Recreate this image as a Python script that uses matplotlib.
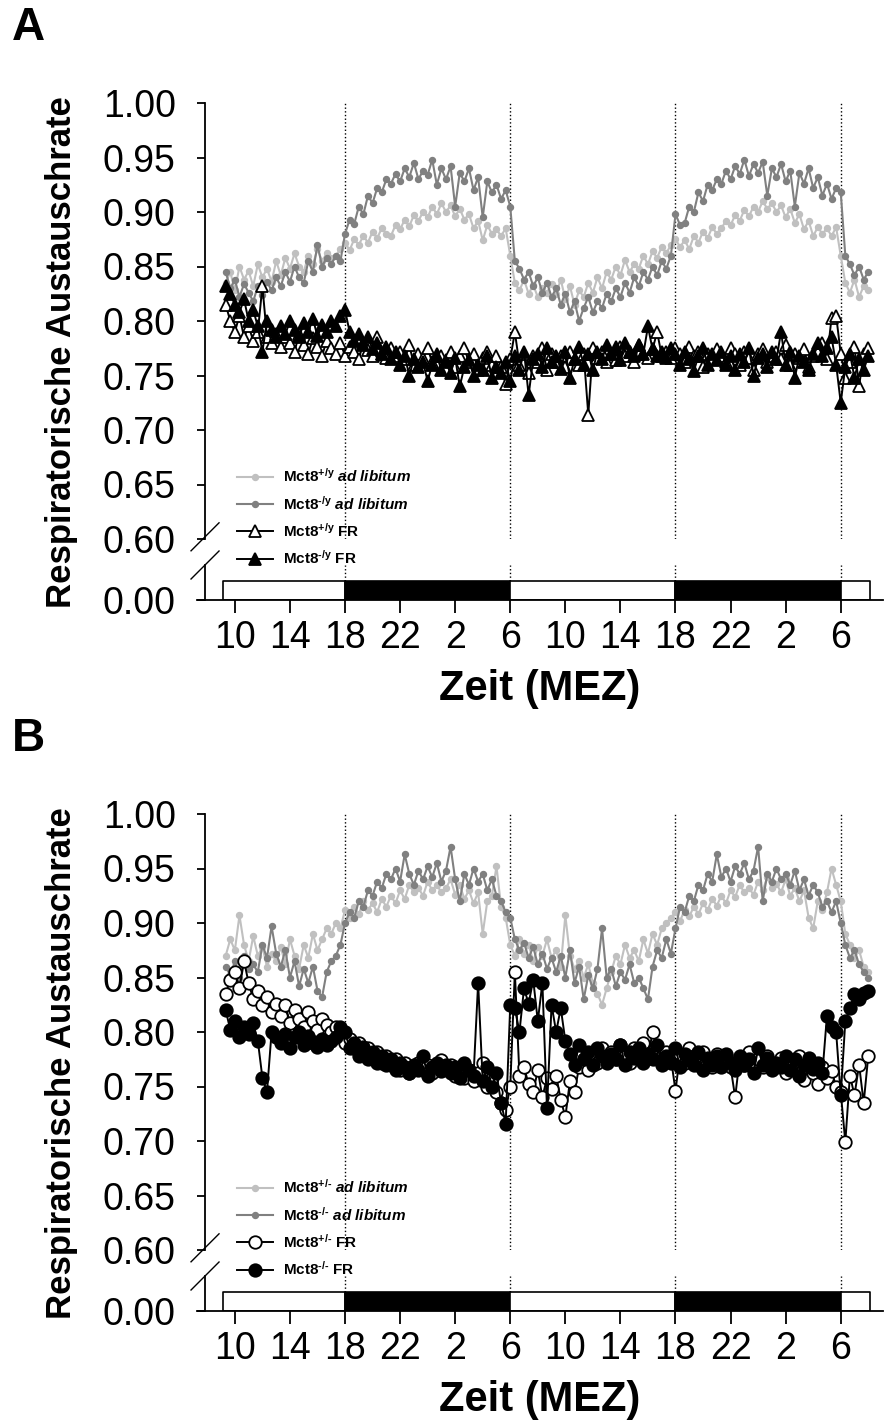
import numpy as np
import matplotlib
matplotlib.use("Agg")
import matplotlib.pyplot as plt
from matplotlib.lines import Line2D

plt.rcParams['font.family'] = ['Liberation Sans', 'DejaVu Sans']
plt.rcParams['mathtext.fontset'] = 'custom'
plt.rcParams['mathtext.rm'] = 'Liberation Sans'
plt.rcParams['mathtext.bf'] = 'Liberation Sans:bold'
plt.rcParams['mathtext.it'] = 'Liberation Sans:italic'
plt.rcParams['mathtext.bfit'] = 'Liberation Sans:italic:bold'

# time axis: hours from midnight of day 1, one sample every 20 min (9:20 .. 8:00 day 3)
hours = 9 + 1 / 3 + np.arange(141) / 3

tick_hours = [10, 14, 18, 22, 26, 30, 34, 38, 42, 46, 50, 54]
tick_labels = ['10', '14', '18', '22', '2', '6', '10', '14', '18', '22', '2', '6']
lights_off = [18, 42]       # dark phase starts
lights_on = [30, 54]        # dark phase ends
bar_edges = [9.14, 18, 30, 42, 54, 56.13]
bar_colors = ['white', 'black', 'white', 'black', 'white']

# ---- panel A (males) ----
a_wt_adlib = [
    0.835, 0.845, 0.828, 0.850, 0.838, 0.846, 0.832, 0.852, 0.840, 0.848, 0.836, 0.855,
    0.842, 0.858, 0.848, 0.862, 0.850, 0.845, 0.860, 0.852, 0.866, 0.855, 0.862, 0.858,
    0.860, 0.866, 0.872, 0.865, 0.875, 0.870, 0.878, 0.872, 0.882, 0.876, 0.885, 0.880,
    0.878, 0.888, 0.884, 0.893, 0.887, 0.897, 0.892, 0.900, 0.895, 0.905, 0.898, 0.908,
    0.900, 0.906, 0.896, 0.903, 0.893, 0.898, 0.885, 0.892, 0.874, 0.888, 0.880, 0.884,
    0.878, 0.885, 0.860, 0.835, 0.828, 0.838, 0.825, 0.833, 0.822, 0.830, 0.826, 0.834,
    0.825, 0.838, 0.820, 0.832, 0.815, 0.828, 0.822, 0.835, 0.826, 0.840, 0.830, 0.845,
    0.838, 0.850, 0.842, 0.856, 0.845, 0.852, 0.848, 0.860, 0.852, 0.864, 0.858, 0.868,
    0.862, 0.870, 0.875, 0.868, 0.874, 0.866, 0.878, 0.872, 0.882, 0.876, 0.886, 0.880,
    0.885, 0.892, 0.888, 0.897, 0.892, 0.902, 0.896, 0.905, 0.900, 0.910, 0.903, 0.908,
    0.900, 0.906, 0.895, 0.903, 0.890, 0.898, 0.884, 0.892, 0.878, 0.886, 0.880, 0.885,
    0.878, 0.886, 0.860, 0.835, 0.826, 0.838, 0.822, 0.832, 0.828]
a_ko_adlib = [
    0.845, 0.830, 0.838, 0.822, 0.834, 0.826, 0.818, 0.832, 0.824, 0.836, 0.828, 0.840,
    0.832, 0.845, 0.836, 0.850, 0.840, 0.835, 0.855, 0.845, 0.870, 0.850, 0.858, 0.852,
    0.860, 0.855, 0.880, 0.893, 0.889, 0.905, 0.898, 0.915, 0.908, 0.922, 0.918, 0.930,
    0.926, 0.935, 0.928, 0.940, 0.932, 0.945, 0.930, 0.938, 0.934, 0.948, 0.925, 0.940,
    0.930, 0.942, 0.905, 0.936, 0.928, 0.940, 0.920, 0.932, 0.895, 0.928, 0.918, 0.925,
    0.912, 0.920, 0.905, 0.855, 0.848, 0.838, 0.845, 0.832, 0.840, 0.826, 0.835, 0.822,
    0.830, 0.815, 0.825, 0.808, 0.818, 0.800, 0.812, 0.822, 0.808, 0.818, 0.812, 0.825,
    0.818, 0.830, 0.822, 0.835, 0.826, 0.840, 0.832, 0.845, 0.838, 0.850, 0.842, 0.855,
    0.848, 0.860, 0.898, 0.888, 0.890, 0.905, 0.900, 0.918, 0.910, 0.925, 0.920, 0.930,
    0.926, 0.938, 0.930, 0.942, 0.935, 0.948, 0.933, 0.944, 0.936, 0.946, 0.915, 0.940,
    0.932, 0.944, 0.928, 0.938, 0.905, 0.936, 0.926, 0.940, 0.922, 0.932, 0.915, 0.926,
    0.912, 0.922, 0.918, 0.860, 0.852, 0.842, 0.850, 0.838, 0.845]
a_wt_fr = [
    0.815, 0.800, 0.790, 0.805, 0.785, 0.795, 0.782, 0.790, 0.832, 0.785, 0.780, 0.788,
    0.776, 0.785, 0.780, 0.772, 0.788, 0.778, 0.770, 0.784, 0.776, 0.768, 0.782, 0.775,
    0.770, 0.780, 0.768, 0.776, 0.772, 0.765, 0.780, 0.773, 0.768, 0.785, 0.770, 0.766,
    0.775, 0.768, 0.772, 0.765, 0.778, 0.760, 0.770, 0.766, 0.775, 0.762, 0.770, 0.768,
    0.764, 0.772, 0.758, 0.768, 0.775, 0.762, 0.770, 0.755, 0.766, 0.772, 0.760, 0.768,
    0.758, 0.742, 0.765, 0.790, 0.760, 0.770, 0.752, 0.768, 0.762, 0.775, 0.755, 0.770,
    0.762, 0.768, 0.758, 0.772, 0.765, 0.760, 0.770, 0.714, 0.775, 0.766, 0.772, 0.762,
    0.770, 0.764, 0.776, 0.768, 0.772, 0.762, 0.778, 0.770, 0.766, 0.774, 0.790, 0.768,
    0.772, 0.766, 0.775, 0.770, 0.762, 0.776, 0.768, 0.772, 0.758, 0.770, 0.765, 0.774,
    0.768, 0.762, 0.775, 0.770, 0.760, 0.772, 0.766, 0.755, 0.770, 0.774, 0.762, 0.768,
    0.772, 0.765, 0.778, 0.760, 0.770, 0.766, 0.774, 0.758, 0.768, 0.772, 0.780, 0.765,
    0.803, 0.805, 0.770, 0.748, 0.762, 0.776, 0.740, 0.770, 0.775]
a_ko_fr = [
    0.832, 0.825, 0.815, 0.808, 0.820, 0.800, 0.810, 0.795, 0.772, 0.800, 0.792, 0.785,
    0.795, 0.788, 0.800, 0.792, 0.785, 0.798, 0.790, 0.802, 0.786, 0.796, 0.790, 0.800,
    0.795, 0.805, 0.810, 0.790, 0.782, 0.788, 0.778, 0.785, 0.774, 0.780, 0.770, 0.776,
    0.765, 0.772, 0.760, 0.768, 0.750, 0.765, 0.758, 0.762, 0.745, 0.760, 0.768, 0.755,
    0.762, 0.752, 0.766, 0.740, 0.758, 0.764, 0.750, 0.760, 0.755, 0.768, 0.748, 0.758,
    0.752, 0.762, 0.745, 0.768, 0.755, 0.772, 0.732, 0.765, 0.770, 0.758, 0.775, 0.762,
    0.768, 0.756, 0.772, 0.748, 0.765, 0.776, 0.760, 0.770, 0.755, 0.772, 0.765, 0.778,
    0.770, 0.776, 0.764, 0.780, 0.772, 0.768, 0.778, 0.770, 0.795, 0.774, 0.768, 0.772,
    0.766, 0.775, 0.770, 0.760, 0.772, 0.765, 0.754, 0.768, 0.775, 0.760, 0.770, 0.764,
    0.772, 0.760, 0.768, 0.755, 0.770, 0.762, 0.775, 0.750, 0.766, 0.770, 0.758, 0.772,
    0.765, 0.790, 0.760, 0.772, 0.748, 0.768, 0.762, 0.755, 0.770, 0.780, 0.768, 0.775,
    0.785, 0.760, 0.725, 0.758, 0.770, 0.748, 0.765, 0.755, 0.768]

# ---- panel B (females) ----
b_wt_adlib = [
    0.870, 0.885, 0.875, 0.907, 0.880, 0.865, 0.888, 0.870, 0.878, 0.860, 0.872, 0.865,
    0.878, 0.862, 0.885, 0.870, 0.858, 0.880, 0.868, 0.890, 0.875, 0.885, 0.895, 0.890,
    0.900, 0.895, 0.912, 0.905, 0.915, 0.908, 0.920, 0.912, 0.918, 0.910, 0.922, 0.915,
    0.925, 0.918, 0.930, 0.922, 0.935, 0.928, 0.932, 0.925, 0.938, 0.930, 0.935, 0.928,
    0.932, 0.940, 0.926, 0.935, 0.922, 0.930, 0.918, 0.928, 0.890, 0.920, 0.925, 0.952,
    0.915, 0.905, 0.880, 0.870, 0.885, 0.872, 0.880, 0.865, 0.878, 0.870, 0.885, 0.868,
    0.875, 0.860, 0.907, 0.870, 0.858, 0.865, 0.850, 0.862, 0.845, 0.835, 0.825, 0.840,
    0.855, 0.870, 0.862, 0.880, 0.868, 0.875, 0.865, 0.885, 0.872, 0.890, 0.880, 0.895,
    0.900, 0.905, 0.910, 0.902, 0.912, 0.906, 0.915, 0.908, 0.918, 0.912, 0.922, 0.916,
    0.925, 0.918, 0.930, 0.924, 0.935, 0.928, 0.932, 0.926, 0.938, 0.930, 0.942, 0.932,
    0.936, 0.928, 0.940, 0.925, 0.932, 0.920, 0.930, 0.905, 0.895, 0.920, 0.912, 0.928,
    0.950, 0.935, 0.920, 0.890, 0.880, 0.868, 0.875, 0.860, 0.855]
b_ko_adlib = [
    0.860, 0.852, 0.865, 0.850, 0.870, 0.858, 0.862, 0.855, 0.880, 0.868, 0.897, 0.872,
    0.860, 0.875, 0.850, 0.865, 0.842, 0.858, 0.845, 0.860, 0.838, 0.832, 0.855, 0.865,
    0.870, 0.880, 0.900, 0.910, 0.905, 0.920, 0.915, 0.930, 0.925, 0.938, 0.932, 0.945,
    0.940, 0.950, 0.938, 0.963, 0.945, 0.935, 0.948, 0.940, 0.952, 0.942, 0.955, 0.938,
    0.948, 0.970, 0.940, 0.920, 0.945, 0.935, 0.950, 0.938, 0.945, 0.930, 0.940, 0.925,
    0.920, 0.910, 0.905, 0.885, 0.875, 0.882, 0.868, 0.878, 0.862, 0.872, 0.858, 0.868,
    0.855, 0.870, 0.850, 0.875, 0.845, 0.860, 0.830, 0.852, 0.840, 0.858, 0.895, 0.850,
    0.858, 0.842, 0.855, 0.848, 0.862, 0.845, 0.850, 0.840, 0.830, 0.860, 0.875, 0.868,
    0.885, 0.872, 0.895, 0.915, 0.910, 0.925, 0.920, 0.935, 0.930, 0.945, 0.938, 0.963,
    0.942, 0.950, 0.938, 0.952, 0.945, 0.955, 0.940, 0.948, 0.970, 0.920, 0.945, 0.938,
    0.950, 0.940, 0.945, 0.935, 0.948, 0.930, 0.940, 0.925, 0.935, 0.928, 0.915, 0.920,
    0.910, 0.920, 0.900, 0.880, 0.868, 0.875, 0.862, 0.855, 0.850]
b_wt_fr = [
    0.835, 0.848, 0.855, 0.840, 0.865, 0.845, 0.830, 0.838, 0.825, 0.832, 0.818, 0.826,
    0.815, 0.825, 0.808, 0.820, 0.812, 0.805, 0.818, 0.810, 0.802, 0.812, 0.806, 0.800,
    0.805, 0.798, 0.790, 0.794, 0.785, 0.790, 0.780, 0.785, 0.776, 0.782, 0.772, 0.778,
    0.770, 0.775, 0.765, 0.772, 0.762, 0.768, 0.772, 0.765, 0.770, 0.762, 0.768, 0.774,
    0.766, 0.770, 0.760, 0.768, 0.758, 0.765, 0.755, 0.762, 0.772, 0.750, 0.758, 0.745,
    0.735, 0.728, 0.750, 0.855, 0.760, 0.768, 0.752, 0.745, 0.765, 0.740, 0.758, 0.748,
    0.760, 0.738, 0.722, 0.755, 0.745, 0.768, 0.775, 0.765, 0.780, 0.772, 0.785, 0.778,
    0.782, 0.775, 0.788, 0.778, 0.772, 0.785, 0.780, 0.790, 0.776, 0.800, 0.784, 0.778,
    0.782, 0.776, 0.746, 0.780, 0.772, 0.785, 0.778, 0.770, 0.782, 0.775, 0.768, 0.780,
    0.774, 0.778, 0.768, 0.740, 0.776, 0.770, 0.782, 0.765, 0.775, 0.768, 0.778, 0.772,
    0.768, 0.776, 0.762, 0.772, 0.765, 0.778, 0.756, 0.770, 0.762, 0.752, 0.768, 0.758,
    0.764, 0.750, 0.745, 0.699, 0.760, 0.742, 0.770, 0.735, 0.778]
b_ko_fr = [
    0.820, 0.802, 0.810, 0.795, 0.805, 0.798, 0.808, 0.792, 0.758, 0.745, 0.800, 0.795,
    0.790, 0.798, 0.785, 0.795, 0.800, 0.788, 0.796, 0.790, 0.786, 0.794, 0.788, 0.792,
    0.795, 0.805, 0.800, 0.785, 0.790, 0.778, 0.786, 0.775, 0.782, 0.772, 0.778, 0.770,
    0.775, 0.765, 0.772, 0.768, 0.762, 0.770, 0.765, 0.778, 0.760, 0.768, 0.772, 0.764,
    0.770, 0.762, 0.768, 0.758, 0.772, 0.765, 0.760, 0.845, 0.755, 0.768, 0.750, 0.762,
    0.735, 0.716, 0.825, 0.822, 0.800, 0.840, 0.826, 0.848, 0.810, 0.845, 0.730, 0.825,
    0.800, 0.822, 0.792, 0.780, 0.770, 0.788, 0.775, 0.782, 0.770, 0.785, 0.778, 0.772,
    0.780, 0.775, 0.788, 0.770, 0.782, 0.776, 0.785, 0.772, 0.780, 0.775, 0.788, 0.770,
    0.778, 0.772, 0.785, 0.768, 0.780, 0.774, 0.770, 0.782, 0.765, 0.776, 0.770, 0.778,
    0.768, 0.780, 0.772, 0.765, 0.778, 0.770, 0.775, 0.762, 0.785, 0.770, 0.776, 0.765,
    0.772, 0.768, 0.778, 0.765, 0.775, 0.760, 0.770, 0.776, 0.766, 0.772, 0.762, 0.815,
    0.805, 0.800, 0.742, 0.810, 0.822, 0.835, 0.830, 0.836, 0.838]

LIGHT = '#c0c0c0'
DARK = '#808080'
W, H = 885, 1421
X0, X1 = 7.25, 57.07
SPINE_X = 0.0117


def rect(left, top, right, bottom):
    return [left / W, 1 - bottom / H, (right - left) / W, (bottom - top) / H]


def panel(fig, dy, series, marker, geno, letter):
    ax = fig.add_axes(rect(197, 103 + dy, 883, 539 + dy))
    axb = fig.add_axes(rect(197, 565 + dy, 883, 600 + dy))
    axb.set_facecolor('none')
    ax.set_facecolor('none')

    for h in lights_off + lights_on:
        ax.axvline(h, color='k', ls=':', lw=1, zorder=1)
        axb.plot([h, h], [0.54, 1.0], color='k', ls=':', lw=1, zorder=1)

    wt_ad, ko_ad, wt_fr, ko_fr = series
    ax.plot(hours, wt_ad, '-o', color=LIGHT, ms=4.3, lw=1.5, zorder=2)
    ax.plot(hours, ko_ad, '-o', color=DARK, ms=4.3, lw=1.5, zorder=3)
    ax.plot(hours, wt_fr, '-' + marker, color='k', mfc='white', mec='k',
            ms=9, mew=1.3, lw=1.4, zorder=4)
    ax.plot(hours, ko_fr, '-' + marker, color='k', mfc='k', mec='k',
            ms=9, mew=1.3, lw=1.4, zorder=5)

    ax.set_xlim(X0, X1)
    ax.set_ylim(0.60, 1.00)
    ax.set_yticks(np.arange(0.60, 1.001, 0.05))
    ax.set_yticklabels([f'{v:.2f}' for v in np.arange(0.60, 1.001, 0.05)])
    for s in ['top', 'right', 'bottom']:
        ax.spines[s].set_visible(False)
    ax.spines['left'].set_position(('axes', SPINE_X))
    ax.spines['left'].set_linewidth(1.3)
    ax.tick_params(axis='x', bottom=False, labelbottom=False)
    ax.tick_params(axis='y', direction='out', length=6, width=1.3, pad=15, labelsize=27)

    # light/dark bar
    segs = [(a, b - a) for a, b in zip(bar_edges[:-1], bar_edges[1:])]
    axb.broken_barh(segs, (0, 0.543), facecolors=bar_colors, edgecolor='k', lw=1.2, zorder=2)
    axb.set_xlim(X0, X1)
    axb.set_ylim(0, 1)
    axb.set_yticks([0])
    axb.set_yticklabels(['0.00'])
    axb.set_xticks(tick_hours)
    axb.set_xticklabels(tick_labels)
    for s in ['top', 'right']:
        axb.spines[s].set_visible(False)
    axb.spines['left'].set_position(('axes', SPINE_X))
    axb.spines['left'].set_linewidth(1.3)
    axb.spines['bottom'].set_linewidth(1.3)
    axb.tick_params(axis='y', direction='out', length=6, width=1.3, pad=15, labelsize=27)
    axb.tick_params(axis='x', direction='out', length=9.5, width=1.3, pad=5, labelsize=27)
    axb.set_xlabel('Zeit (MEZ)', fontsize=30, fontweight='bold', labelpad=9)

    # axis break marks
    sx = 14 / 686
    ax.plot([SPINE_X - sx, SPINE_X + sx], [0.005 - 14 / 436, 0.005 + 14 / 436],
            transform=ax.transAxes, color='k', lw=1, clip_on=False)
    axb.plot([SPINE_X - sx, SPINE_X + sx], [1 - 14 / 35, 1 + 14 / 35],
             transform=axb.transAxes, color='k', lw=1, clip_on=False)

    # legend
    handles = [
        Line2D([], [], color=LIGHT, marker='o', ms=4.3, lw=1.5),
        Line2D([], [], color=DARK, marker='o', ms=4.3, lw=1.5),
        Line2D([], [], color='k', marker=marker, mfc='white', mec='k', ms=9, mew=1.3, lw=1.4),
        Line2D([], [], color='k', marker=marker, mfc='k', mec='k', ms=9, mew=1.3, lw=1.4),
    ]
    labels = [
        r'$\mathbf{Mct8}^{\mathbf{' + geno[0] + r'}}\ \mathbfit{ad\ libitum}$',
        r'$\mathbf{Mct8}^{\mathbf{' + geno[1] + r'}}\ \mathbfit{ad\ libitum}$',
        r'$\mathbf{Mct8}^{\mathbf{' + geno[0] + r'}}\ \mathbf{FR}$',
        r'$\mathbf{Mct8}^{\mathbf{' + geno[1] + r'}}\ \mathbf{FR}$',
    ]
    leg = ax.legend(handles, labels, loc='upper left', bbox_to_anchor=(0.058, 0.165),
                    frameon=False, fontsize=11, handlelength=2.4, handletextpad=0.6,
                    labelspacing=0.62, borderpad=0, borderaxespad=0, numpoints=1)
    leg.set_zorder(6)

    fig.text(62 / W, 1 - (352 + dy) / H, 'Respiratorische Austauschrate', rotation=90,
             ha='center', va='center', fontsize=25, fontweight='bold')
    fig.text(12 / W, 1 - (28 + dy) / H, letter, ha='left', va='center',
             fontsize=33, fontweight='bold')


fig = plt.figure(figsize=(W / 100, H / 100), dpi=100)
panel(fig, 0, (a_wt_adlib, a_ko_adlib, a_wt_fr, a_ko_fr), '^', ('+/y', '\u2010/y'), 'A')
panel(fig, 711, (b_wt_adlib, b_ko_adlib, b_wt_fr, b_ko_fr), 'o',
      ('+/\u2010', '\u2010/\u2010'), 'B')
fig.savefig('out.png', dpi=100)
